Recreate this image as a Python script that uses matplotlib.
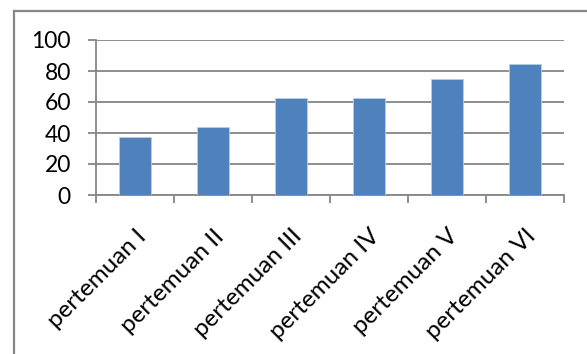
import matplotlib
matplotlib.use("Agg")
import matplotlib.pyplot as plt
from matplotlib.lines import Line2D

categories = ["pertemuan I", "pertemuan II", "pertemuan III",
              "pertemuan IV", "pertemuan V", "pertemuan VI"]
values = [37.5, 43.75, 62.5, 62.5, 75.0, 84.38]
yticks = [0, 20, 40, 60, 80, 100]

GRID = "#868686"
BAR = "#4F81BD"

plt.rcParams["font.family"] = ["Lato", "DejaVu Sans"]

fig = plt.figure(figsize=(5.87, 3.54), dpi=100)
ax = fig.add_axes([96 / 587, 1 - 195 / 354, 468 / 587, 155 / 354])

x = range(len(categories))
ax.bar(x, values, width=0.4, color=BAR, edgecolor="#B9CDE5", linewidth=0.6, zorder=3)

ax.set_xlim(-0.5, len(categories) - 0.5)
ax.set_ylim(0, 100)
ax.set_yticks(yticks)
ax.set_yticklabels([str(v) for v in yticks], fontsize=16.5)
ax.yaxis.grid(True, color=GRID, linewidth=1.3, zorder=0)

# category ticks sit on the boundaries between bars
ax.set_xticks([i - 0.5 for i in range(len(categories) + 1)], minor=False)
ax.set_xticklabels([""] * (len(categories) + 1))
ax.set_xticks(list(x), minor=True)
ax.set_xticklabels(categories, minor=True, rotation=45, ha="right",
                   rotation_mode="anchor", fontsize=17.5)
ax.tick_params(axis="x", which="major", length=6, width=1.3, color=GRID, direction="out")
ax.tick_params(axis="x", which="minor", length=0, pad=22)
ax.tick_params(axis="y", length=6, width=1.3, color=GRID, pad=12)

for side in ("top", "right"):
    ax.spines[side].set_visible(False)
for side in ("left", "bottom"):
    ax.spines[side].set_color(GRID)
    ax.spines[side].set_linewidth(1.3)

# chart area border: only the left and top edges are inside the frame
fl = 13.5 / 587
ft = 1 - 10.5 / 354
fig.add_artist(Line2D([fl, fl], [0, ft], transform=fig.transFigure, color=GRID, lw=1.6))
fig.add_artist(Line2D([fl, 1], [ft, ft], transform=fig.transFigure, color=GRID, lw=1.6))

fig.savefig("out.png", dpi=100)
